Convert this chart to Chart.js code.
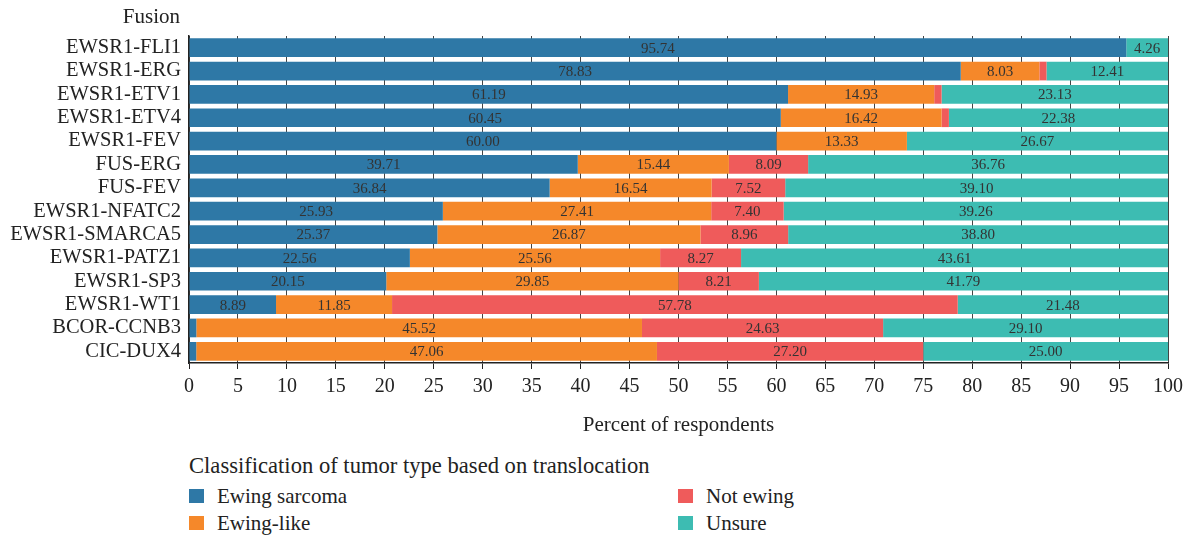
<!DOCTYPE html>
<html>
<head>
<meta charset="utf-8">
<script src="https://cdn.jsdelivr.net/npm/chart.js@4"></script>
<style>
  body { margin: 0; background: #fff; font-family: "Liberation Serif", serif; color: #222; }
  #wrap { position: relative; width: 1189px; height: 535px; }
  #chart { position: absolute; left: 0; top: 0; }
  .ytitle { position: absolute; right: 1009px; top: 3px; font-size: 21px; line-height: 26px; }
  .ttl { position: absolute; left: 189px; top: 453px; font-size: 22.6px; line-height: 26px; white-space: nowrap; }
  .it { position: absolute; font-size: 21px; line-height: 24px; white-space: nowrap; }
  .sw { position: absolute; width: 15px; height: 14px; }
</style>
</head>
<body>
<div id="wrap">
  <canvas id="chart" width="1189" height="442"></canvas>
  <div class="ytitle">Fusion</div>
  <div class="ttl">Classification of tumor type based on translocation</div>
</div>
<script>
const fusions = ['EWSR1-FLI1', 'EWSR1-ERG', 'EWSR1-ETV1', 'EWSR1-ETV4', 'EWSR1-FEV', 'FUS-ERG', 'FUS-FEV',
  'EWSR1-NFATC2', 'EWSR1-SMARCA5', 'EWSR1-PATZ1', 'EWSR1-SP3', 'EWSR1-WT1', 'BCOR-CCNB3', 'CIC-DUX4'];
const ewingSarcoma = [95.74, 78.83, 61.19, 60.45, 60.00, 39.71, 36.84, 25.93, 25.37, 22.56, 20.15, 8.89, 0.75, 0.74];
const ewingLike    = [0, 8.03, 14.93, 16.42, 13.33, 15.44, 16.54, 27.41, 26.87, 25.56, 29.85, 11.85, 45.52, 47.06];
const notEwing     = [0, 0.73, 0.75, 0.75, 0, 8.09, 7.52, 7.40, 8.96, 8.27, 8.21, 57.78, 24.63, 27.20];
const unsure       = [4.26, 12.41, 23.13, 22.38, 26.67, 36.76, 39.10, 39.26, 38.80, 43.61, 41.79, 21.48, 29.10, 25.00];
const xTicks = [0, 5, 10, 15, 20, 25, 30, 35, 40, 45, 50, 55, 60, 65, 70, 75, 80, 85, 90, 95, 100];

const series = [
  { label: 'Ewing sarcoma', data: ewingSarcoma, color: '#2e78a6', pos: [189, 489] },
  { label: 'Ewing-like', data: ewingLike, color: '#f5882a', pos: [189, 516] },
  { label: 'Not ewing', data: notEwing, color: '#ef5b5b', pos: [678, 489] },
  { label: 'Unsure', data: unsure, color: '#3dbcb2', pos: [678, 516] }
];

// legend in html
const wrap = document.getElementById('wrap');
series.forEach(s => {
  const sw = document.createElement('div');
  sw.className = 'sw';
  sw.style.left = s.pos[0] + 'px';
  sw.style.top = s.pos[1] + 'px';
  sw.style.background = s.color;
  wrap.appendChild(sw);
  const t = document.createElement('div');
  t.className = 'it';
  t.style.left = (s.pos[0] + 28) + 'px';
  t.style.top = (s.pos[1] - 5) + 'px';
  t.textContent = s.label;
  wrap.appendChild(t);
});

const FONT = '"Liberation Serif", serif';

const valueLabels = {
  id: 'valueLabels',
  afterDatasetsDraw(chart) {
    const ctx = chart.ctx;
    ctx.save();
    ctx.font = '15px ' + FONT;
    ctx.fillStyle = '#333';
    ctx.textAlign = 'center';
    ctx.textBaseline = 'middle';
    chart.data.datasets.forEach((ds, i) => {
      chart.getDatasetMeta(i).data.forEach((bar, j) => {
        const v = ds.data[j];
        if (v < 4) return;
        ctx.fillText(v.toFixed(2), (bar.x + bar.base) / 2, bar.y + 1);
      });
    });
    ctx.restore();
  }
};

new Chart(document.getElementById('chart'), {
  type: 'bar',
  data: {
    labels: fusions,
    datasets: series.map(s => ({
      label: s.label,
      data: s.data,
      backgroundColor: s.color,
      borderWidth: 0,
      barPercentage: 0.8,
      categoryPercentage: 1
    }))
  },
  options: {
    indexAxis: 'y',
    responsive: false,
    animation: false,
    layout: { padding: { top: 36, right: 21, bottom: 0, left: 0 } },
    plugins: { legend: { display: false }, tooltip: { enabled: false } },
    scales: {
      x: {
        stacked: true,
        min: 0,
        max: 100,
        afterBuildTicks(scale) { scale.ticks = xTicks.map(v => ({ value: v })); },
        afterFit(scale) { scale.height = 79; },
        ticks: { font: { family: FONT, size: 20 }, color: '#222', padding: 6 },
        grid: { color: '#444', tickColor: '#222', tickLength: 6, borderDash: [1, 4], tickBorderDash: [] },
        border: { color: '#222', width: 1.5, dash: [] },
        title: { display: true, text: 'Percent of respondents', font: { family: FONT, size: 21 }, color: '#222', padding: { top: 8 } }
      },
      y: {
        stacked: true,
        afterFit(scale) { scale.width = 189; },
        ticks: { font: { family: FONT, size: 20.5 }, color: '#222', padding: 8, autoSkip: false },
        grid: { drawOnChartArea: false, drawTicks: false },
        border: { color: '#222', width: 1.5 }
      }
    }
  },
  plugins: [valueLabels]
});
</script>
</body>
</html>
